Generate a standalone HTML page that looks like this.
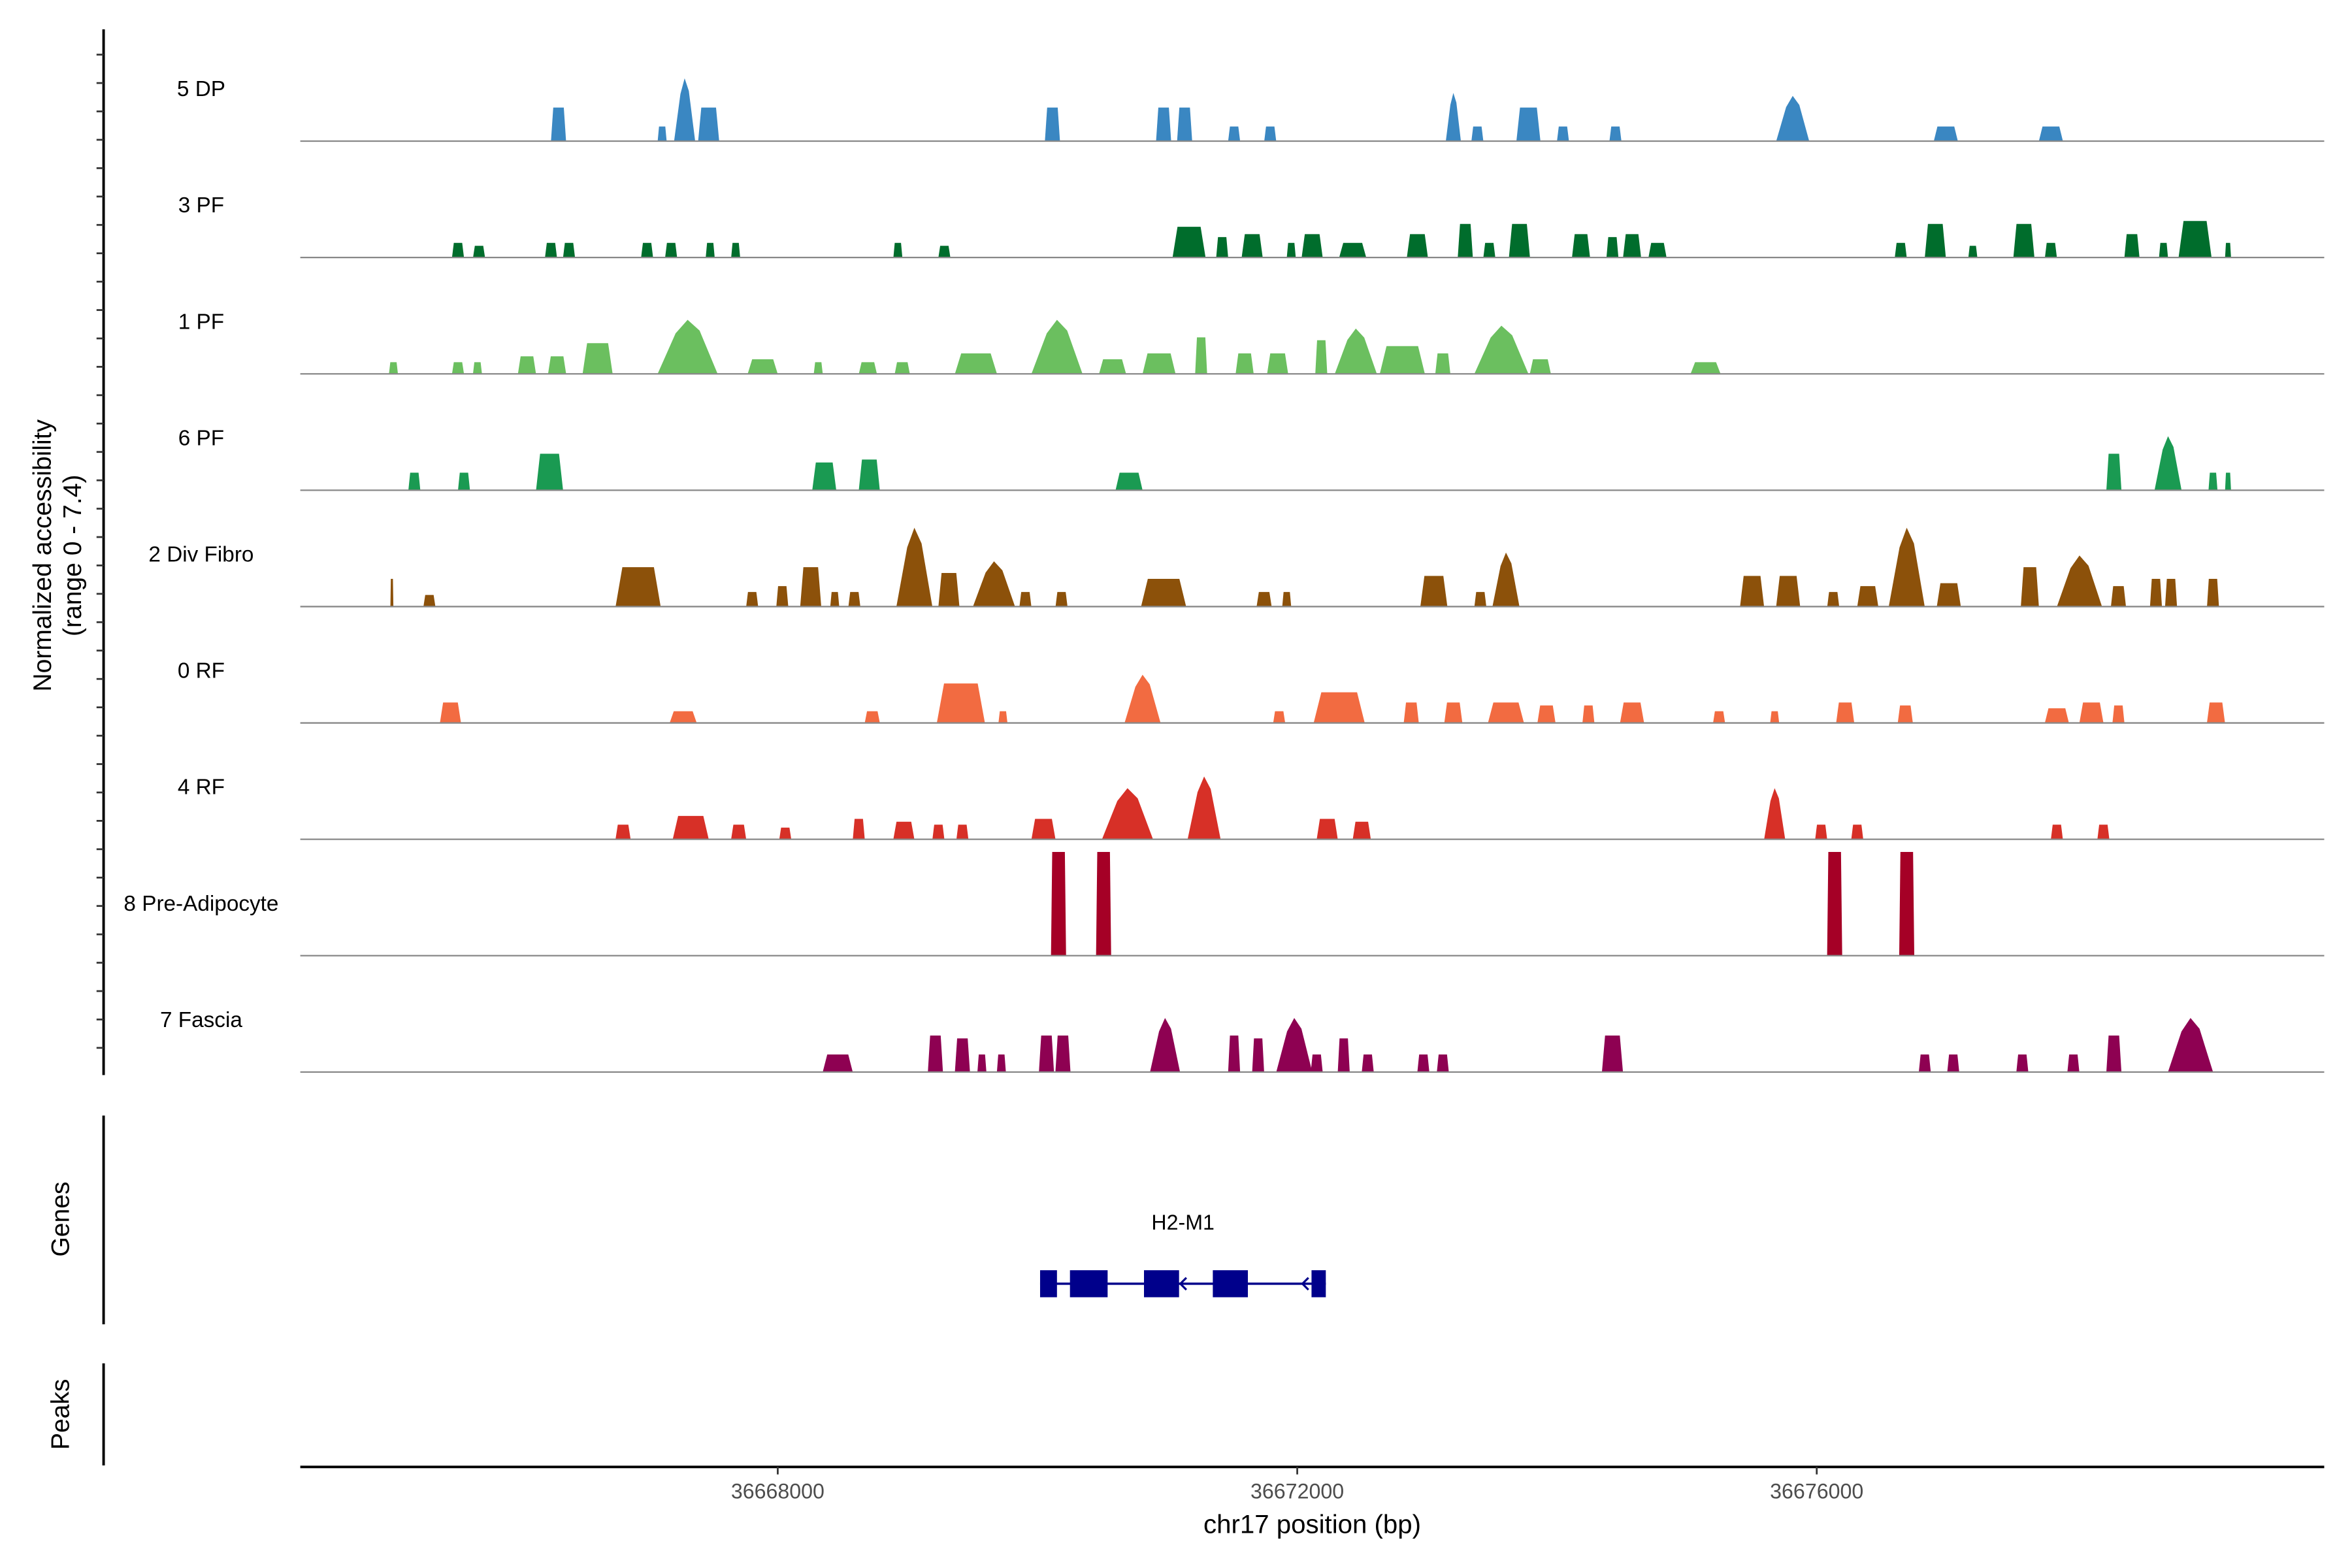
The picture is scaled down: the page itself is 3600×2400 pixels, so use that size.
<!DOCTYPE html>
<html><head><meta charset="utf-8">
<style>
html,body{margin:0;padding:0;background:#fff;}
svg{display:block;font-family:"Liberation Sans",Arial,sans-serif;}
</style></head>
<body>
<svg id="chart" width="3600" height="2400" viewBox="0 0 1566.5 1044.33" preserveAspectRatio="none" xmlns="http://www.w3.org/2000/svg">
<g id="tracks"></g>
<g id="axes">
  <line x1="69" y1="19.5" x2="69" y2="716" stroke="#000" stroke-width="1.7"/>
  <g id="yticks"></g>
  <text transform="translate(34,370) rotate(-90)" text-anchor="middle" font-size="17">Normalized accessibility</text>
  <text transform="translate(54,370) rotate(-90)" text-anchor="middle" font-size="17">(range 0 - 7.4)</text>
  <line x1="69" y1="743" x2="69" y2="882" stroke="#000" stroke-width="1.7"/>
  <text transform="translate(46,812) rotate(-90)" text-anchor="middle" font-size="17">Genes</text>
  <line x1="69" y1="908" x2="69" y2="976" stroke="#000" stroke-width="1.7"/>
  <text transform="translate(46,942) rotate(-90)" text-anchor="middle" font-size="17">Peaks</text>
  <line x1="200" y1="977" x2="1548" y2="977" stroke="#000" stroke-width="1.7"/>
  <g id="xticks"></g>
  <text x="874" y="1021" text-anchor="middle" font-size="17.5">chr17 position (bp)</text>
</g>
<g id="gene"></g>
</svg>
<script>
const trackNames = ["5 DP","3 PF","1 PF","6 PF","2 Div Fibro","0 RF","4 RF","8 Pre-Adipocyte","7 Fascia"];
const trackColors = ["#3a87c2","#006d2c","#6bbf5f","#1a9a52","#8c510a","#f26b41","#d73027","#a50026","#8e0152"];
// peaks: [center bp, width bp, height (normalized accessibility)]
const peaksDP = [[36666312,116,2.3],[36667110,69,1.0],[36667283,162,4.3],[36667468,162,2.3],[36670115,116,2.3],[36670971,116,2.3],[36671133,116,2.3],[36671514,92,1.0],[36671792,92,1.0],[36673202,116,3.3],[36673387,92,1.0],[36673780,185,2.3],[36674046,92,1.0],[36674450,92,1.0],[36675815,254,3.1],[36676994,185,1.0],[36677803,185,1.0]];
const peaks3PF = [[36665538,92,1.0],[36665700,92,0.8],[36666254,92,1.0],[36666393,92,1.0],[36666994,92,1.0],[36667179,92,1.0],[36667480,69,1.0],[36667676,69,1.0],[36668925,69,1.0],[36669283,92,0.8],[36671167,254,2.1],[36671422,92,1.4],[36671653,162,1.6],[36671954,69,1.0],[36672115,162,1.6],[36672427,208,1.0],[36672925,162,1.6],[36673294,116,2.3],[36673479,92,1.0],[36673711,162,2.3],[36674185,139,1.6],[36674427,92,1.4],[36674578,139,1.6],[36674774,139,1.0],[36676647,92,1.0],[36676913,162,2.3],[36677202,69,0.8],[36677595,162,2.3],[36677803,92,1.0],[36678427,116,1.6],[36678670,69,1.0],[36678913,254,2.5],[36679167,46,1.0]];
const peaks1PF = [[36665041,69,0.8],[36665538,92,0.8],[36665688,69,0.8],[36666069,139,1.2],[36666301,139,1.2],[36666613,231,2.1],[36667306,462,3.7],[36667884,231,1.0],[36668312,69,0.8],[36668694,139,0.8],[36668959,116,0.8],[36669526,324,1.4],[36670150,393,3.7],[36670578,208,1.0],[36670936,254,1.4],[36671260,92,2.5],[36671595,139,1.4],[36671849,162,1.4],[36672185,92,2.3],[36672451,324,3.1],[36672809,347,1.9],[36673121,116,1.4],[36673572,416,3.3],[36673872,162,1.0],[36675144,231,0.8]];
const peaks6PF = [[36665202,92,1.2],[36665584,92,1.2],[36666243,208,2.5],[36668358,185,1.9],[36668705,162,2.1],[36670705,208,1.2],[36678288,116,2.5],[36678705,208,3.7],[36679051,69,1.2],[36679167,46,1.2]];
const peaksDiv = [[36665029,23,1.9],[36665318,92,0.8],[36666925,347,2.7],[36667803,92,1.0],[36668035,92,1.4],[36668254,162,2.7],[36668439,69,1.0],[36668590,92,1.0],[36669052,277,5.4],[36669318,162,2.3],[36669665,324,3.1],[36669907,92,1.0],[36670185,92,1.0],[36670971,347,1.9],[36671745,116,1.0],[36671919,69,1.0],[36673052,208,2.1],[36673410,92,1.0],[36673607,208,3.7],[36675502,185,2.1],[36675780,185,2.1],[36676127,92,1.0],[36676393,162,1.4],[36676693,277,5.4],[36677017,185,1.6],[36677641,139,2.7],[36678023,347,3.5],[36678323,116,1.4],[36678612,92,1.9],[36678728,92,1.9],[36679051,92,1.9]];
const peaks0RF = [[36665480,162,1.4],[36667272,208,0.8],[36668728,116,0.8],[36669410,370,2.7],[36669734,69,0.8],[36670809,277,3.3],[36671861,92,0.8],[36672323,393,2.1],[36672878,116,1.4],[36673202,139,1.4],[36673607,277,1.4],[36673919,139,1.2],[36674242,92,1.2],[36674578,185,1.4],[36675248,92,0.8],[36675676,69,0.8],[36676219,139,1.4],[36676682,116,1.2],[36677849,185,1.0],[36678115,185,1.4],[36678323,92,1.2],[36679074,139,1.4]];
const peaks4RF = [[36666809,116,1.0],[36667330,277,1.6],[36667699,116,1.0],[36668058,92,0.8],[36668624,92,1.4],[36668971,162,1.2],[36669237,92,1.0],[36669422,92,1.0],[36670046,185,1.4],[36670693,393,3.5],[36671283,254,4.3],[36672231,162,1.4],[36672497,139,1.2],[36675676,162,3.5],[36676034,92,1.0],[36676312,92,1.0],[36677849,92,1.0],[36678207,92,1.0]];
const peaksPre = [[36670162,116,7.1],[36670509,116,7.1],[36676138,116,7.1],[36676693,116,7.1]];
const peaksFascia = [[36668462,231,1.2],[36669214,116,2.5],[36669422,116,2.3],[36669572,69,1.2],[36669722,69,1.2],[36670069,116,2.5],[36670196,116,2.5],[36670982,231,3.7],[36671514,92,2.5],[36671699,92,2.3],[36671977,277,3.7],[36672150,92,1.2],[36672358,92,2.3],[36672543,92,1.2],[36672971,92,1.2],[36673121,92,1.2],[36674427,162,2.5],[36676832,92,1.2],[36677051,92,1.2],[36677583,92,1.2],[36677976,92,1.2],[36678288,116,2.5],[36678878,347,3.7]];
const allPeaks = [peaksDP,peaks3PF,peaks1PF,peaks6PF,peaksDiv,peaks0RF,peaks4RF,peaksPre,peaksFascia];
const xTickValues = [36668000,36672000,36676000];
const xTickLabels = ["36668000","36672000","36676000"];
const geneName = "H2-M1";
const geneStart = 36670020, geneEnd = 36672220;
const exons = [[36670020,36670150],[36670250,36670540],[36670820,36671090],[36671350,36671620],[36672110,36672220]];
const strandArrows = [36671100,36672040];

const NS = "http://www.w3.org/2000/svg";
const xScale = bp => 518 + (bp - 36668000) * 0.0865;
const yMax = 7.4, trackH = 72;
const yScale = (v, base) => base - v / yMax * trackH;
function mk(tag, attrs, parent){ const e=document.createElementNS(NS,tag); for(const k in attrs) e.setAttribute(k,attrs[k]); parent.appendChild(e); return e; }

const tracksG = document.getElementById('tracks');
trackNames.forEach((name,i)=>{
  const base = 94 + i*77.5;
  const g = mk('g',{},tracksG);
  
  
  const lbl = mk('text',{x:134,y:base-30,'text-anchor':'middle','font-size':'14.5',fill:'#000'},g);
  lbl.textContent = name;
  
  
  allPeaks[i].forEach(p=>{
    const c=p[0], w=p[1], h=p[2];
    const x0=xScale(c-w/2), x1=xScale(c+w/2), top=yScale(h,base);
    const pw=x1-x0;
    const s = (h>3 && i!==7) ? pw*0.3 : (i===7 ? pw*0.08 : pw*0.15);
    const pts = [[x0,base],[x0+s,top+(h>3&&i!==7?(base-top)*0.25:0)],[x0+pw*0.5,top],[x1-s,top+(h>3&&i!==7?(base-top)*0.2:0)],[x1,base]];
    const poly = mk('polygon',{points:pts.map(q=>q[0].toFixed(2)+','+q[1].toFixed(2)).join(' '),fill:trackColors[i]},g);
    
    
  });
  const bl = mk('line',{x1:200,y1:base,x2:1548,y2:base,stroke:'#888','stroke-width':'1'},g);
  
  
});

const yt = document.getElementById('yticks');
for(let y=36.4; y<=716; y+=18.9){
  const t = mk('line',{x1:64.3,y1:y.toFixed(2),x2:69,y2:y.toFixed(2),stroke:'#333','stroke-width':'1.2'},yt);
  
  
}

const xt = document.getElementById('xticks');
xTickValues.forEach((v,i)=>{
  const x = xScale(v);
  const t = mk('line',{x1:x,y1:977,x2:x,y2:982,stroke:'#333','stroke-width':'1.2'},xt);
  
  
  const l = mk('text',{x:x,y:998,'text-anchor':'middle','font-size':'14',fill:'#4d4d4d'},xt);
  l.textContent = xTickLabels[i];
  
  
});

const gg = document.getElementById('gene');
const gl = mk('text',{x:(xScale(geneStart)+xScale(geneEnd))/2,y:819,'text-anchor':'middle','font-size':'14',fill:'#000'},gg);
gl.textContent = geneName;


const gline = mk('line',{x1:xScale(geneStart),y1:855,x2:xScale(geneEnd),y2:855,stroke:'#00008b','stroke-width':'1.5'},gg);


exons.forEach(e=>{
  const r = mk('rect',{x:xScale(e[0]),y:846,width:xScale(e[1])-xScale(e[0]),height:18,fill:'#00008b'},gg);
  
  
});
strandArrows.forEach(a=>{
  const x = xScale(a);
  const p = mk('polyline',{points:`${x+4},851 ${x},855 ${x+4},859`,fill:'none',stroke:'#00008b','stroke-width':'1.4'},gg);
  
  
});
</script>
</body></html>
